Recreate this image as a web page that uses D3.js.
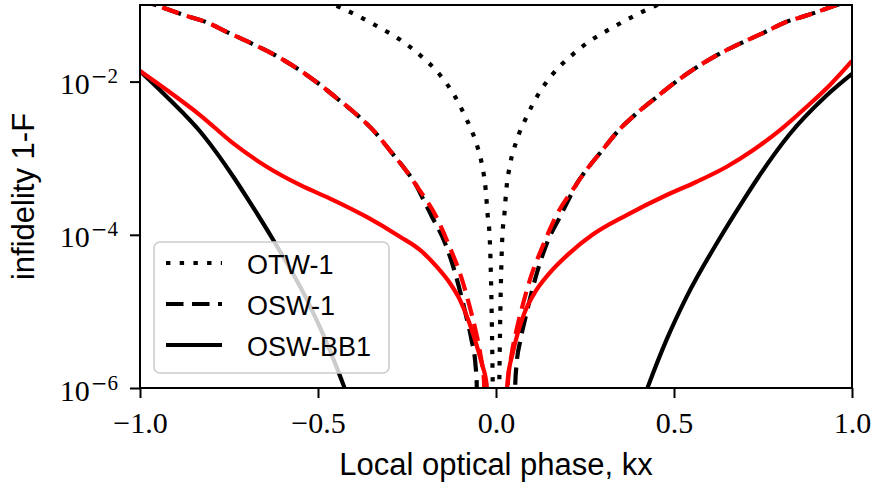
<!DOCTYPE html>
<html><head><meta charset="utf-8">
<script src="https://cdn.jsdelivr.net/npm/d3@7"></script>
<style>body{margin:0;background:#fff}</style>
</head><body><svg id="c" width="875" height="483"></svg>
<script>
// ---- data ----
const xTicks=[-1,-0.5,0,0.5,1];
const xTickLabels=["\u22121.0","\u22120.5","0.0","0.5","1.0"];
const yTicks=[1e-6,1e-4,1e-2];
const yTickExps=["6","4","2"];
const legendLabels=["OTW-1","OSW-1","OSW-BB1"];
const xLabel="Local optical phase, kx";
const yLabel="infidelity 1-F";

// OTW-1 (black dotted)
const otwX=[-0.52,-0.4466,-0.3933,-0.330,-0.264,-0.2107,-0.1573,-0.1177,-0.0857,-0.0576,-0.0393,-0.0289,-0.0239,-0.0174,-0.0140,0,
             0.0140,0.0174,0.0239,0.0289,0.0393,0.0576,0.0857,0.1177,0.1573,0.2107,0.264,0.330,0.3933,0.4466,0.52];
const otwY=[0.13,0.097,0.0741,0.0516,0.0339,0.0216,0.0122,6.68e-3,3.45e-3,1.68e-3,8.15e-4,3.85e-4,1.93e-4,8.55e-5,2.57e-5,1e-10,
             2.57e-5,8.55e-5,1.93e-4,3.85e-4,8.15e-4,1.68e-3,3.45e-3,6.68e-3,0.0122,0.0216,0.0339,0.0516,0.0741,0.097,0.13];

// OSW-1 (black dashed)
const oswX=[-1.0,-0.9466,-0.8764,-0.8146,-0.7528,-0.6854,-0.6208,-0.5562,-0.5084,-0.4494,-0.3933,-0.3427,-0.2949,-0.2528,-0.2247,-0.2079,-0.1798,-0.1433,-0.1124,-0.1011,-0.0857,-0.0688,-0.0576,-0.0542,-0.05,0,
             0.05,0.0542,0.0576,0.0688,0.0857,0.1011,0.1124,0.1433,0.1798,0.2079,0.2247,0.2528,0.2949,0.3427,0.3933,0.4494,0.5084,0.5562,0.6208,0.6854,0.7528,0.8146,0.8764,0.9466,1.0];
const oswY=[0.118,0.0962,0.0739,0.0600,0.0437,0.0313,0.0222,0.0146,0.0102,6.19e-3,3.78e-3,2.26e-3,1.21e-3,6.90e-4,4.47e-4,3.14e-4,1.72e-4,7.82e-5,2.90e-5,1.85e-5,9.44e-6,4.24e-6,2.0e-6,1.16e-6,1e-9,1e-10,
             1e-9,1.16e-6,2.0e-6,4.24e-6,9.44e-6,1.85e-5,2.90e-5,7.82e-5,1.72e-4,3.14e-4,4.47e-4,6.90e-4,1.21e-3,2.26e-3,3.78e-3,6.19e-3,0.0102,0.0146,0.0222,0.0313,0.0437,0.0600,0.0739,0.0962,0.118];

// OSW-1 (red dashed)
const oswRedX=[-1.0,-0.9466,-0.8764,-0.8146,-0.7528,-0.6854,-0.6208,-0.5562,-0.5084,-0.4494,-0.3933,-0.3427,-0.2949,-0.2528,-0.2247,-0.1677,-0.1306,-0.0997,-0.0764,-0.0576,-0.0435,-0.0337,-0.031,0,
                0.031,0.0337,0.0435,0.0576,0.0764,0.0997,0.1306,0.1677,0.2247,0.2528,0.2949,0.3427,0.3933,0.4494,0.5084,0.5562,0.6208,0.6854,0.7528,0.8146,0.8764,0.9466,1.0];
const oswRedY=[0.118,0.0962,0.0739,0.0600,0.0437,0.0313,0.0222,0.0146,0.0102,6.19e-3,3.78e-3,2.26e-3,1.21e-3,6.90e-4,4.47e-4,1.72e-4,7.0e-5,2.99e-5,1.28e-5,5.71e-6,2.70e-6,1.22e-6,1e-8,1e-10,
                1e-8,1.22e-6,2.70e-6,5.71e-6,1.28e-5,2.99e-5,7.0e-5,1.72e-4,4.47e-4,6.90e-4,1.21e-3,2.26e-3,3.78e-3,6.19e-3,0.0102,0.0146,0.0222,0.0313,0.0437,0.0600,0.0739,0.0962,0.118];

// OSW-BB1 (black solid)
const bbX=[-1.0,-0.927,-0.823,-0.7374,-0.6952,-0.6256,-0.5357,-0.4789,-0.4284,-0.379,
            0.379,0.4284,0.4789,0.5357,0.6256,0.6952,0.7374,0.823,0.927,1.0];
const bbY=[0.0137,6.48e-3,2.01e-3,5.69e-4,2.84e-4,8.55e-5,1.56e-5,4.24e-6,1.09e-6,2.5e-7,
            2.5e-7,1.09e-6,4.24e-6,1.56e-5,8.55e-5,2.84e-4,5.69e-4,2.01e-3,6.48e-3,0.0126];

// OSW-BB1 (red solid)
const bbRedX=[-1.0,-0.925,-0.8315,-0.738,-0.644,-0.5506,-0.457,-0.3632,-0.2697,-0.2135,-0.1666,-0.1292,-0.1011,-0.0778,-0.059,-0.0402,-0.0261,0,
               0.0329,0.0469,0.061,0.0795,0.1076,0.1497,0.2059,0.2697,0.3671,0.4795,0.5638,0.648,0.7228,0.7978,0.8728,0.9382,1.0];
const bbRedY=[0.01374,7.76e-3,3.66e-3,1.56e-3,7.74e-4,4.47e-4,2.84e-4,1.71e-4,9.44e-5,6.34e-5,3.84e-5,2.33e-5,1.41e-5,7.73e-6,4.24e-6,2.10e-6,1.09e-6,1e-10,
               1.27e-6,2.84e-6,5.18e-6,9.44e-6,1.72e-5,3.14e-5,5.73e-5,9.93e-5,1.81e-4,3.31e-4,4.93e-4,7.74e-4,1.28e-3,2.33e-3,4.70e-3,9.04e-3,0.0186];

// ---- drawing ----
const L=140,R=852,T=5,B=388;
const svg=d3.select("#c");
const x=d3.scaleLinear().domain([-1,1]).range([L,R]);
const y=d3.scaleLog().domain([1e-6,1e-1]).range([B,T]);

svg.append("defs").append("clipPath").attr("id","clip")
  .append("rect").attr("x",L).attr("y",T).attr("width",R-L).attr("height",B-T);

const styles={dotted:"4.4,9.3",dashed:"17.5,8.5",solid:null};
const series=[
  {xs:otwX,ys:otwY,color:"#000",style:"dotted",off:0},
  {xs:oswX,ys:oswY,color:"#000",style:"dashed",off:0},
  {xs:bbX,ys:bbY,color:"#000",style:"solid",off:0},
  {xs:oswRedX,ys:oswRedY,color:"#ff0000",style:"dashed",off:2.5},
  {xs:bbRedX,ys:bbRedY,color:"#ff0000",style:"solid",off:0}
];
const line=d3.line().x(d=>x(d[0])).y(d=>y(d[1])).curve(d3.curveMonotoneX);
const g=svg.append("g").attr("clip-path","url(#clip)");
series.forEach(s=>{
  const pts=s.xs.map((v,i)=>[v,s.ys[i]]);
  const left=pts.filter(p=>p[0]<=0), right=pts.filter(p=>p[0]>=0);
  [left,right].forEach(br=>{
    if(br.length<2) return;
    g.append("path").attr("d",line(br)).attr("fill","none")
      .attr("stroke",s.color).attr("stroke-width",4.2)
      .attr("stroke-dasharray",styles[s.style])
      .attr("stroke-dashoffset",s.off);
  });
});

// axes
const xAxis=d3.axisBottom(x).tickValues(xTicks).tickSize(10).tickFormat((d,i)=>xTickLabels[i]);
const gx=svg.append("g").attr("transform",`translate(0,${B})`).call(xAxis);
gx.select(".domain").remove();
gx.selectAll(".tick line").attr("stroke","#000").attr("stroke-width",2);
gx.selectAll(".tick text").attr("font-family","'Liberation Serif',serif").attr("font-size",30)
  .attr("fill","#000").attr("y",45).attr("dy",null);

const yAxis=d3.axisLeft(y).tickValues(yTicks).tickSize(10).tickFormat(()=> "");
const gy=svg.append("g").attr("transform",`translate(${L},0)`).call(yAxis);
gy.select(".domain").remove();
gy.selectAll(".tick line").attr("stroke","#000").attr("stroke-width",2);
gy.selectAll(".tick text").remove();
yTicks.forEach((t,i)=>{
  const tx=svg.append("text").attr("x",118).attr("y",y(t)+12.5).attr("text-anchor","end")
    .attr("font-family","'Liberation Serif',serif").attr("fill","#000");
  tx.append("tspan").attr("font-size",30).text("10");
  tx.append("tspan").attr("font-size",20).attr("dx",1).attr("dy",-11)
    .attr("font-family","'DejaVu Serif',serif").text("\u2212");
  tx.append("tspan").attr("font-size",21).text(yTickExps[i]);
});

// frame
svg.append("rect").attr("x",L).attr("y",T).attr("width",R-L).attr("height",B-T)
  .attr("fill","none").attr("stroke","#000").attr("stroke-width",2);

// labels
svg.append("text").attr("x",(L+R)/2).attr("y",475).attr("text-anchor","middle")
  .attr("font-family","'Liberation Sans',Arial,sans-serif").attr("font-size",31).text(xLabel);
svg.append("text").attr("transform",`translate(34,${(T+B)/2}) rotate(-90)`).attr("text-anchor","middle")
  .attr("font-family","'Liberation Sans',Arial,sans-serif").attr("font-size",31).text(yLabel);

// legend
const lg=svg.append("g");
lg.append("rect").attr("x",154).attr("y",242).attr("width",235).attr("height",131).attr("rx",6)
  .attr("fill","#fff").attr("fill-opacity",0.8).attr("stroke","#cccccc").attr("stroke-width",1.6);
const legStyles=["dotted","dashed","solid"];
legendLabels.forEach((lab,i)=>{
  const ly=263+i*41;
  lg.append("line").attr("x1",166).attr("x2",222).attr("y1",ly).attr("y2",ly)
    .attr("stroke","#000").attr("stroke-width",4.2).attr("stroke-dasharray",styles[legStyles[i]]);
  lg.append("text").attr("x",247).attr("y",ly+10.5).attr("font-family","'Liberation Sans',Arial,sans-serif")
    .attr("font-size",27).text(lab);
});
</script></body></html>
